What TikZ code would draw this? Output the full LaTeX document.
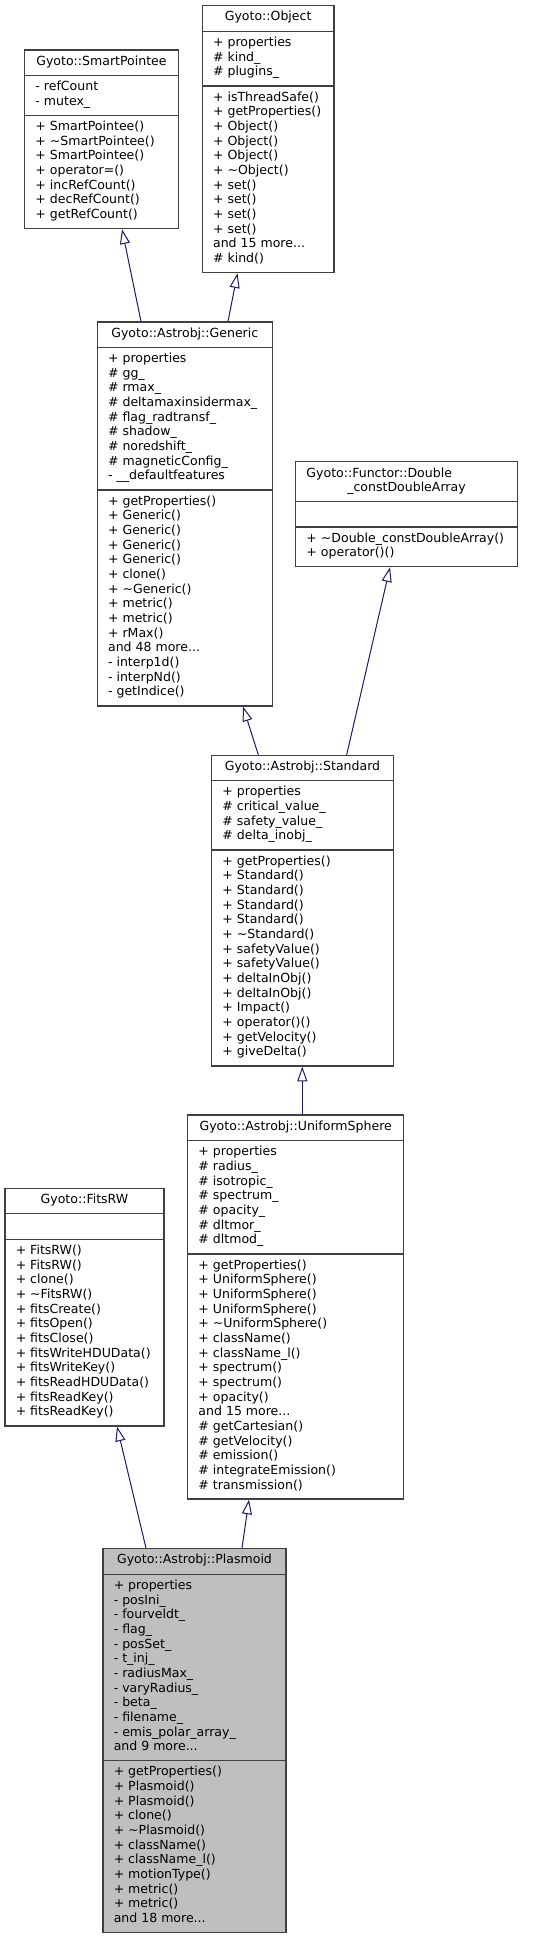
\documentclass[tikz,border=0pt]{standalone}
\usepackage{fontspec}
\setmainfont{DejaVu Sans}
\usetikzlibrary{fit, arrows.meta}
\definecolor{edgeblue}{HTML}{191970}
\definecolor{boxgray}{HTML}{404040}
\definecolor{focusfill}{HTML}{BFBFBF}

\begin{document}
\begin{tikzpicture}[x=0.75pt, y=-0.75pt, >={Triangle[open, length=11pt, width=7.5pt]}]
        \tikzstyle{classbox} = [rectangle, draw=boxgray, line width=0.9pt, fill=white, inner sep=0pt]
        \tikzstyle{focusbox} = [classbox, fill=focusfill]
        \tikzstyle{classname} = [anchor=north, inner sep=0pt, font={\fontsize{9.4}{11}\selectfont}, execute at begin node=\strut]
        \tikzstyle{members} = [anchor=north west, align=left, inner sep=0pt, font={\fontsize{9.4}{11}\selectfont}, execute at begin node=\strut]
        \tikzstyle{divider} = [draw=boxgray, line width=0.9pt]
        \tikzstyle{inherit} = [->, draw=edgeblue, line width=0.75pt]

        \useasboundingbox (0,0) rectangle (535,1939);

        % Gyoto::SmartPointee
        \node [classbox, fit={(24.7,50) (178.3,228.7)}] (smartptr) {};
        \node [classname] (smartptrname) at ([yshift=-4pt]smartptr.north) {Gyoto::SmartPointee};
        \draw [divider] (smartptr.west |- 0,75.3) -- (smartptr.east |- 0,75.3);
        \draw [divider] (smartptr.west |- 0,115.3) -- (smartptr.east |- 0,115.3);
        \node [members] (smartptrattr) at (35.2,80.65) {- refCount\\- mutex\_};
        \node [members] (smartptrops) at (35.2,120.65) {+ SmartPointee()\\+ \textasciitilde SmartPointee()\\+ SmartPointee()\\+ operator=()\\+ incRefCount()\\+ decRefCount()\\+ getRefCount()};

        % Gyoto::Object
        \node [classbox, fit={(202.3,5.7) (334,272.7)}] (object) {};
        \node [classname] (objectname) at ([yshift=-4pt]object.north) {Gyoto::Object};
        \draw [divider] (object.west |- 0,31.3) -- (object.east |- 0,31.3);
        \draw [divider] (object.west |- 0,86) -- (object.east |- 0,86);
        \node [members] (objectattr) at (212.8,36.65) {+ properties\\\# kind\_\\\# plugins\_};
        \node [members] (objectops) at (212.8,91.35) {+ isThreadSafe()\\+ getProperties()\\+ Object()\\+ Object()\\+ Object()\\+ \textasciitilde Object()\\+ set()\\+ set()\\+ set()\\+ set()\\and 15 more...\\\# kind()};

        % Gyoto::Astrobj::Generic
        \node [classbox, fit={(97.3,322) (272.3,706)}] (generic) {};
        \node [classname] (genericname) at ([yshift=-4pt]generic.north) {Gyoto::Astrobj::Generic};
        \draw [divider] (generic.west |- 0,347.3) -- (generic.east |- 0,347.3);
        \draw [divider] (generic.west |- 0,490) -- (generic.east |- 0,490);
        \node [members] (genericattr) at (107.8,352.65) {+ properties\\\# gg\_\\\# rmax\_\\\# deltamaxinsidermax\_\\\# flag\_radtransf\_\\\# shadow\_\\\# noredshift\_\\\# magneticConfig\_\\- \_\_defaultfeatures};
        \node [members] (genericops) at (107.8,495.35) {+ getProperties()\\+ Generic()\\+ Generic()\\+ Generic()\\+ Generic()\\+ clone()\\+ \textasciitilde Generic()\\+ metric()\\+ metric()\\+ rMax()\\and 48 more...\\- interp1d()\\- interpNd()\\- getIndice()};

        % Gyoto::Functor::Double_constDoubleArray
        \node [classbox, fit={(295.7,461.3) (517.3,566.7)}] (functor) {};
        \node [classname, anchor=north west] (functorname) at (306.2,466.65) {Gyoto::Functor::Double};
        \node [classname] (functorname2) at (406.5,481.3) {\_constDoubleArray};
        \draw [divider] (functor.west |- 0,501.3) -- (functor.east |- 0,501.3);
        \draw [divider] (functor.west |- 0,527) -- (functor.east |- 0,527);
        \node [members] (functorops) at (306.2,532.35) {+ \textasciitilde Double\_constDoubleArray()\\+ operator()()};

        % Gyoto::Astrobj::Standard
        \node [classbox, fit={(211.7,755.3) (393.3,1066)}] (standard) {};
        \node [classname] (standardname) at ([yshift=-4pt]standard.north) {Gyoto::Astrobj::Standard};
        \draw [divider] (standard.west |- 0,780.7) -- (standard.east |- 0,780.7);
        \draw [divider] (standard.west |- 0,850) -- (standard.east |- 0,850);
        \node [members] (standardattr) at (222.2,786.05) {+ properties\\\# critical\_value\_\\\# safety\_value\_\\\# delta\_inobj\_};
        \node [members] (standardops) at (222.2,855.35) {+ getProperties()\\+ Standard()\\+ Standard()\\+ Standard()\\+ Standard()\\+ \textasciitilde Standard()\\+ safetyValue()\\+ safetyValue()\\+ deltaInObj()\\+ deltaInObj()\\+ Impact()\\+ operator()()\\+ getVelocity()\\+ giveDelta()};

        % Gyoto::Astrobj::UniformSphere
        \node [classbox, fit={(187.7,1115) (403.7,1499)}] (sphere) {};
        \node [classname] (spherename) at ([yshift=-4pt]sphere.north) {Gyoto::Astrobj::UniformSphere};
        \draw [divider] (sphere.west |- 0,1140.7) -- (sphere.east |- 0,1140.7);
        \draw [divider] (sphere.west |- 0,1254) -- (sphere.east |- 0,1254);
        \node [members] (sphereattr) at (198.2,1146.05) {+ properties\\\# radius\_\\\# isotropic\_\\\# spectrum\_\\\# opacity\_\\\# dltmor\_\\\# dltmod\_};
        \node [members] (sphereops) at (198.2,1259.35) {+ getProperties()\\+ UniformSphere()\\+ UniformSphere()\\+ UniformSphere()\\+ \textasciitilde UniformSphere()\\+ className()\\+ className\_l()\\+ spectrum()\\+ spectrum()\\+ opacity()\\and 15 more...\\\# getCartesian()\\\# getVelocity()\\\# emission()\\\# integrateEmission()\\\# transmission()};

        % Gyoto::FitsRW
        \node [classbox, fit={(5,1188.7) (164,1426)}] (fitsrw) {};
        \node [classname] (fitsrwname) at ([yshift=-4pt]fitsrw.north) {Gyoto::FitsRW};
        \draw [divider] (fitsrw.west |- 0,1213.7) -- (fitsrw.east |- 0,1213.7);
        \draw [divider] (fitsrw.west |- 0,1239.3) -- (fitsrw.east |- 0,1239.3);
        \node [members] (fitsrwops) at (15.5,1244.65) {+ FitsRW()\\+ FitsRW()\\+ clone()\\+ \textasciitilde FitsRW()\\+ fitsCreate()\\+ fitsOpen()\\+ fitsClose()\\+ fitsWriteHDUData()\\+ fitsWriteKey()\\+ fitsReadHDUData()\\+ fitsReadKey()\\+ fitsReadKey()};

        % Gyoto::Astrobj::Plasmoid
        \node [focusbox, fit={(103,1548.7) (286,1932.7)}] (plasmoid) {};
        \node [classname] (plasmoidname) at ([yshift=-4pt]plasmoid.north) {Gyoto::Astrobj::Plasmoid};
        \draw [divider] (plasmoid.west |- 0,1574.3) -- (plasmoid.east |- 0,1574.3);
        \draw [divider] (plasmoid.west |- 0,1760.7) -- (plasmoid.east |- 0,1760.7);
        \node [members] (plasmoidattr) at (113.5,1579.65) {+ properties\\- posIni\_\\- fourveldt\_\\- flag\_\\- posSet\_\\- t\_inj\_\\- radiusMax\_\\- varyRadius\_\\- beta\_\\- filename\_\\- emis\_polar\_array\_\\and 9 more...};
        \node [members] (plasmoidops) at (113.5,1766.05) {+ getProperties()\\+ Plasmoid()\\+ Plasmoid()\\+ clone()\\+ \textasciitilde Plasmoid()\\+ className()\\+ className\_l()\\+ motionType()\\+ metric()\\+ metric()\\and 18 more...};

        % inheritance
        \draw [inherit] (generic.north -| 141,0) -- (smartptr.south -| 122,0);
        \draw [inherit] (generic.north -| 228,0) -- (object.south -| 237.5,0);
        \draw [inherit] (standard.north -| 258.3,0) -- (generic.south -| 243,0);
        \draw [inherit] (standard.north -| 346.7,0) -- (functor.south -| 390,0);
        \draw [inherit] (sphere.north -| 302.3,0) -- (standard.south -| 302.3,0);
        \draw [inherit] (plasmoid.north -| 146,0) -- (fitsrw.south -| 117,0);
        \draw [inherit] (plasmoid.north -| 242,0) -- (sphere.south -| 249,0);
    \end{tikzpicture}
\end{document}
